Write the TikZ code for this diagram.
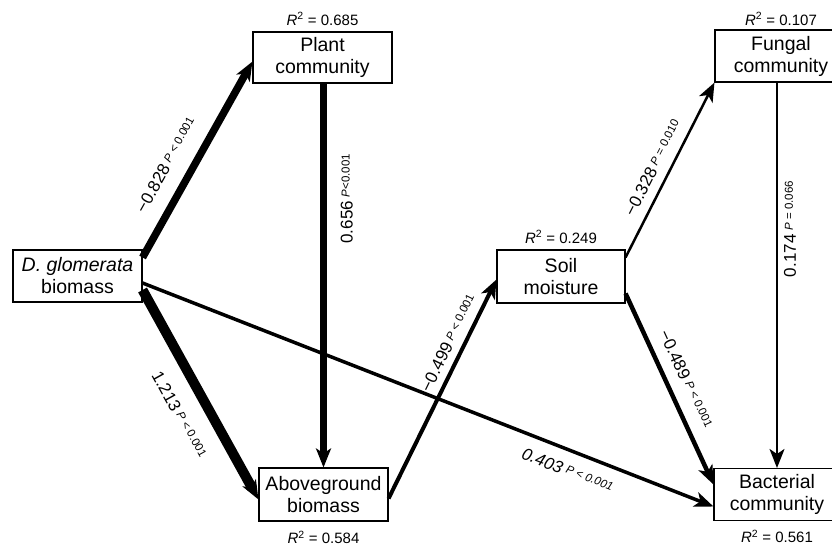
\documentclass[tikz,border=0pt]{standalone}
\usepackage{fontspec}
\setmainfont{Liberation Sans}
\usetikzlibrary{arrows.meta, positioning}

\newcommand{\coef}[2]{{\fontsize{17}{17}\selectfont #1}\hspace{4pt}\raisebox{3pt}{\fontsize{11.5}{11.5}\selectfont #2}}
\newcommand{\rsq}[1]{\textit{R}\textsuperscript{2} = #1}

\begin{document}
\begin{tikzpicture}[x=1pt, y=-1pt,
  box/.style={rectangle, draw, line width=1.1pt, align=center, inner sep=0pt, font=\fontsize{19.5}{22}\selectfont},
  rlab/.style={inner sep=1pt, font=\fontsize{15}{15}\selectfont},
  clab/.style={inner sep=1pt},
  link/.style={draw, -{Stealth[length=19pt, width=15pt, inset=5pt]}}]
\useasboundingbox (0,0) rectangle (832,547);
\fill[white] (0,0) rectangle (832,547);

\node[box, minimum width=129pt, minimum height=52pt] (dglom) at (77.5,276) {\textit{D. glomerata}\\biomass};
\node[box, minimum width=139pt, minimum height=51pt] (plant) at (322.5,57.5) {Plant\\community};
\node[box, minimum width=129pt, minimum height=53pt] (above) at (323.5,494.5) {Aboveground\\biomass};
\node[box, minimum width=128pt, minimum height=53pt] (soil) at (561,276.5) {Soil\\moisture};
\node[box, minimum width=132pt, minimum height=52pt] (fungal) at (781,56) {Fungal\\community};
\node[box, minimum width=126pt, minimum height=52pt] (bact) at (777,494.5) {Bacterial\\community};

\node[rlab, above=5pt of plant] (rplant) {\rsq{0.685}};
\node[rlab, above=3pt of fungal] (rfungal) {\rsq{0.107}};
\node[rlab, above=5pt of soil] (rsoil) {\rsq{0.249}};
\node[rlab, below=8pt of above] (rabove) {\rsq{0.584}};
\node[rlab, below=8pt of bact] (rbact) {\rsq{0.561}};

\draw[link, line width=7.5pt] ([yshift=-8pt]dglom.north east) -- node[clab, sloped, pos=0.41, above=14pt] {\coef{−0.828}{\textit{P} < 0.001}} ([yshift=-4pt]plant.west);
\draw[link, line width=10pt] ([yshift=-14pt]dglom.east) -- node[clab, sloped, pos=0.53, below=16pt] {\coef{1.213}{\textit{P} < 0.001}} ([yshift=-5pt]above.west);
\draw[link, line width=3.5pt] ([yshift=-7pt]dglom.east) -- node[clab, sloped, pos=0.757, below=11pt, font=\itshape] {\coef{0.403}{\textit{P} < 0.001}} ([yshift=-12pt]bact.west);
\draw[link, line width=6.5pt] (plant.south -| above.north) -- node[clab, pos=0.3, xshift=13pt, rotate=90, anchor=north] {\coef{0.656}{\textit{P}<0.001}} (above.north);
\draw[link, line width=4pt] ([yshift=-4pt]above.east) -- node[clab, sloped, pos=0.68, above=6pt] {\coef{−0.499}{\textit{P} < 0.001}} ([yshift=-3pt]soil.west);
\draw[link, line width=2.5pt] ([yshift=-8pt]soil.north east) -- node[clab, sloped, pos=0.47, above=8pt] {\coef{−0.328}{\textit{P} = 0.010}} (fungal.south west);
\draw[link, line width=4.5pt] ([yshift=-17pt]soil.east) -- node[clab, sloped, pos=0.49, above=10pt] {\coef{−0.489}{\textit{P} < 0.001}} ([yshift=10pt]bact.west);
\draw[link, line width=1.8pt] (fungal.south -| bact.north) -- node[clab, pos=0.38, xshift=5pt, rotate=90, anchor=north] {\coef{0.174}{\textit{P} = 0.066}} (bact.north);
\end{tikzpicture}
\end{document}
